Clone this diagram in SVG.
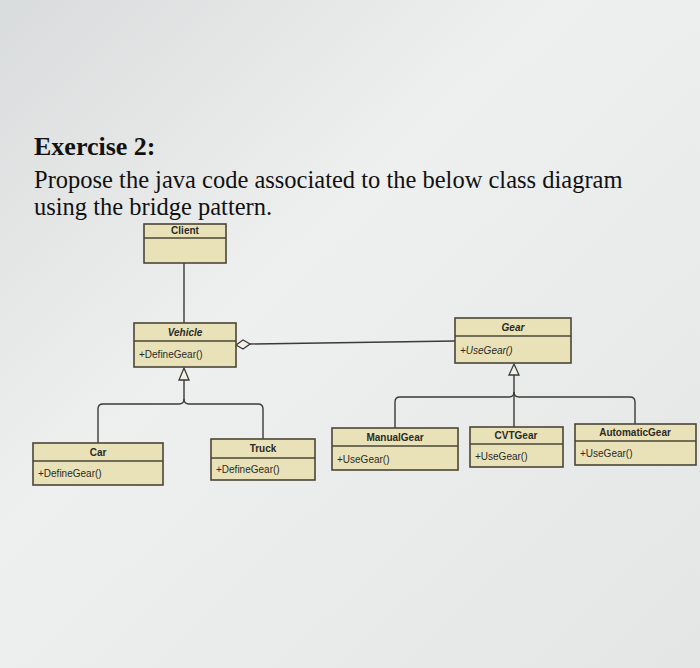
<svg xmlns="http://www.w3.org/2000/svg" width="700" height="668" viewBox="0 0 700 668">
<defs>
<linearGradient id="bg" x1="0" y1="0" x2="1" y2="1">
<stop offset="0" stop-color="#d9dcdc"/><stop offset="0.4" stop-color="#eef0ef"/><stop offset="1" stop-color="#e4e6e6"/>
</linearGradient>
</defs>
<style>
.box{fill:#e9e2b8;stroke:#4a4636;stroke-width:1.6}
.div{stroke:#4a4636;stroke-width:1.6}
.n{font-family:"Liberation Sans",Arial,sans-serif;font-size:10px;font-weight:bold;fill:#2a2a26;text-anchor:middle}
.m{font-family:"Liberation Sans",Arial,sans-serif;font-size:10px;fill:#2a2a26}
.c{fill:none;stroke:#3a3a36;stroke-width:1.4}
.t{font-family:"Liberation Serif","Times New Roman",serif;fill:#111}
</style>
<rect width="700" height="668" fill="url(#bg)"/>
<text class="t" x="34" y="155" font-size="26" font-weight="bold">Exercise 2:</text>
<text class="t" x="34" y="188" font-size="24.5">Propose the java code associated to the below class diagram</text>
<text class="t" x="34" y="215" font-size="24.5">using the bridge pattern.</text>
<g id="connectors">
<path class="c" d="M184,263 V323"/>
<path class="c" d="M250,344 L455,341"/>
<path d="M236,345 L243,340 L250,344 L243,349 Z" fill="#f3f1e8" stroke="#3a3a36" stroke-width="1.3"/>
<path class="c" d="M184,380 V399 Q184,404 179,404 H103 Q98,404 98,409 V443"/>
<path class="c" d="M184,399 Q184,404 189,404 H258 Q263,404 263,409 V439"/>
<path d="M184,368 L189,380 L179,380 Z" fill="#f3f1e8" stroke="#3a3a36" stroke-width="1.3"/>
<path class="c" d="M514,375 V427"/>
<path class="c" d="M514,392 Q514,397 509,397 H400 Q395,397 395,402 V428"/>
<path class="c" d="M514,392 Q514,397 519,397 H630 Q635,397 635,402 V424"/>
<path d="M514,364 L519,375 L509,375 Z" fill="#f3f1e8" stroke="#3a3a36" stroke-width="1.3"/>
</g>
<g id="client"><rect class="box" x="144" y="224" width="82" height="39"/><line class="div" x1="144" y1="238" x2="226" y2="238"/><text class="n" x="185" y="234">Client</text></g>
<g id="vehicle"><rect class="box" x="134" y="323" width="102" height="44"/><line class="div" x1="134" y1="341" x2="236" y2="341"/><text class="n" x="185" y="336" font-style="italic">Vehicle</text><text class="m" x="139" y="358">+DefineGear()</text></g>
<g id="gear"><rect class="box" x="455" y="318" width="116" height="45"/><line class="div" x1="455" y1="336" x2="571" y2="336"/><text class="n" x="513" y="331" font-style="italic">Gear</text><text class="m" x="460" y="354" font-style="italic">+UseGear()</text></g>
<g id="car"><rect class="box" x="33" y="443" width="130" height="42"/><line class="div" x1="33" y1="461" x2="163" y2="461"/><text class="n" x="98" y="456">Car</text><text class="m" x="38" y="477">+DefineGear()</text></g>
<g id="truck"><rect class="box" x="211" y="439" width="104" height="41"/><line class="div" x1="211" y1="458" x2="315" y2="458"/><text class="n" x="263" y="452">Truck</text><text class="m" x="216" y="473">+DefineGear()</text></g>
<g id="manualgear"><rect class="box" x="332" y="428" width="126" height="42"/><line class="div" x1="332" y1="446" x2="458" y2="446"/><text class="n" x="395" y="441">ManualGear</text><text class="m" x="337" y="463">+UseGear()</text></g>
<g id="cvtgear"><rect class="box" x="470" y="427" width="93" height="40"/><line class="div" x1="470" y1="444" x2="563" y2="444"/><text class="n" x="516" y="439">CVTGear</text><text class="m" x="475" y="460">+UseGear()</text></g>
<g id="automaticgear"><rect class="box" x="575" y="424" width="121" height="41"/><line class="div" x1="575" y1="441" x2="696" y2="441"/><text class="n" x="635" y="436">AutomaticGear</text><text class="m" x="580" y="457">+UseGear()</text></g>
</svg>
